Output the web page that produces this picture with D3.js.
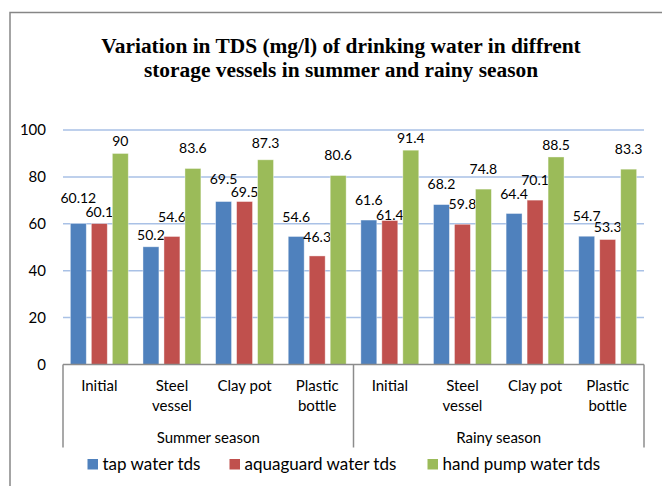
<!DOCTYPE html>
<meta charset="utf-8">
<style>
body { margin: 0; background: #fff; }
svg text { font-family: Lato, "Open Sans", sans-serif; fill: #000; }
.title { font-family: "Liberation Serif", "Times New Roman", serif !important; font-weight: bold; font-size: 21.4px; }
.grid line { stroke: #a9c1e6; stroke-width: 1.5; }
.cataxis line { stroke: #8c8c8c; stroke-width: 1.5; }
</style>
<svg width="662" height="486"></svg>
<script src="https://d3js.org/d3.v7.min.js"></script>
<script>
// data
var seasons = ["Summer season", "Rainy season"];
var vessels = [["Initial"], ["Steel", "vessel"], ["Clay pot"], ["Plastic", "bottle"]];
var seriesNames = ["tap water tds", "aquaguard water tds", "hand pump water tds"];
var tapTds = [60.12, 50.2, 69.5, 54.6, 61.6, 68.2, 64.4, 54.7];
var aquaguardTds = [60.1, 54.6, 69.5, 46.3, 61.4, 59.8, 70.1, 53.3];
var handPumpTds = [90, 83.6, 87.3, 80.6, 91.4, 74.8, 88.5, 83.3];
var yTicks = [0, 20, 40, 60, 80, 100];

var colors = ["#4f81bd", "#c0504d", "#9bbb59"];
// how far each value label sits above its bar (label centre), px
var labelGap = [
  [26, 12, 23, 20, 20, 21, 20, 20],
  [12, 20, 10, 19, 6, 20, 20, 13],
  [12, 20, 17, 21, 12, 20, 12, 20]
];

var seriesValues = [tapTds, aquaguardTds, handPumpTds];
var cats = [];
seasons.forEach(function(s, si) {
  vessels.forEach(function(v, vi) { cats.push({ season: si, lines: v, key: si + "-" + vi }); });
});

var svg = d3.select("svg");
var plotLeft = 63, plotRight = 644, plotTop = 130, plotBottom = 364.5;

// chart frame
svg.append("rect")
  .attr("x", 10).attr("y", 12.5).attr("width", 700).attr("height", 520)
  .attr("fill", "none").attr("stroke", "#868686").attr("stroke-width", 1.5);

svg.append("text").attr("class", "title")
  .attr("text-anchor", "middle")
  .selectAll("tspan")
  .data(["Variation in TDS (mg/l) of drinking water in diffrent",
         "storage vessels in summer and rainy season"])
  .enter().append("tspan")
  .attr("x", 341).attr("y", function(d, i) { return 52.5 + i * 24.5; })
  .text(function(d) { return d; });

var x = d3.scaleBand().domain(cats.map(function(d) { return d.key; })).range([plotLeft, plotRight]);
var xs = d3.scaleBand().domain(d3.range(3)).range([0, x.bandwidth()]).paddingInner(0.24).paddingOuter(0.35);
var y = d3.scaleLinear().domain([0, 100]).range([plotBottom, plotTop]);

// gridlines
svg.append("g").attr("class", "grid")
  .selectAll("line").data(yTicks.slice(1)).enter().append("line")
  .attr("x1", plotLeft).attr("x2", plotRight)
  .attr("y1", function(d) { return y(d); }).attr("y2", function(d) { return y(d); });

// y axis labels
var yAxis = svg.append("g")
  .attr("transform", "translate(" + (plotLeft - 10) + ",0)")
  .call(d3.axisLeft(y).tickValues(yTicks).tickSize(0).tickPadding(7));
yAxis.select(".domain").remove();
yAxis.selectAll("text").attr("font-size", "15px").attr("font-family", "Lato").attr("fill", "#000");

// bars
var series = svg.selectAll(".series")
  .data(seriesValues).enter().append("g")
  .attr("fill", function(d, i) { return colors[i]; });

series.selectAll("rect")
  .data(function(vals, si) { return vals.map(function(v, ci) { return { v: v, si: si, ci: ci }; }); })
  .enter().append("rect")
  .attr("x", function(d) { return x(cats[d.ci].key) + xs(d.si); })
  .attr("width", xs.bandwidth())
  .attr("y", function(d) { return y(d.v); })
  .attr("height", function(d) { return y(0) - y(d.v); })
  .attr("stroke", "#fff").attr("stroke-opacity", 0.5).attr("stroke-width", 0.8);

series.selectAll("text.val")
  .data(function(vals, si) { return vals.map(function(v, ci) { return { v: v, si: si, ci: ci }; }); })
  .enter().append("text").attr("class", "val")
  .attr("text-anchor", "middle")
  .attr("font-size", "14px")
  .attr("x", function(d) { return x(cats[d.ci].key) + xs(d.si) + xs.bandwidth() / 2; })
  .attr("y", function(d) { return y(d.v) - labelGap[d.si][d.ci]; })
  .attr("dy", "0.36em")
  .text(function(d) { return String(d.v); });

// category axis (two levels)
var cax = svg.append("g").attr("class", "cataxis");
cax.append("line").attr("x1", plotLeft).attr("x2", plotRight).attr("y1", plotBottom).attr("y2", plotBottom);
var mid = x(cats[4].key);
[plotLeft, mid, plotRight].forEach(function(px) {
  cax.append("line").attr("x1", px).attr("x2", px).attr("y1", plotBottom).attr("y2", 447.5);
});

var catLabels = svg.append("g").selectAll("text")
  .data(cats).enter().append("text")
  .attr("text-anchor", "middle")
  .attr("font-size", "15px");
catLabels.selectAll("tspan")
  .data(function(d) { return d.lines.map(function(l) { return { l: l, key: d.key }; }); })
  .enter().append("tspan")
  .attr("x", function(d) { return x(d.key) + x.bandwidth() / 2; })
  .attr("y", function(d, i) { return 386 + i * 19.5; })
  .attr("dy", "0.36em")
  .text(function(d) { return d.l; });

svg.append("g").selectAll("text")
  .data(seasons).enter().append("text")
  .attr("text-anchor", "middle")
  .attr("font-size", "15px")
  .attr("x", function(d, i) { return i === 0 ? (plotLeft + mid) / 2 : (mid + plotRight) / 2; })
  .attr("y", 437.5).attr("dy", "0.36em")
  .text(function(d) { return d; });

// legend
var legendX = [87.5, 229.5, 427.5];
var lg = svg.append("g").selectAll("g")
  .data(seriesNames).enter().append("g")
  .attr("transform", function(d, i) { return "translate(" + legendX[i] + ",459)"; });
lg.append("rect").attr("width", 10.5).attr("height", 10.5)
  .attr("fill", function(d, i) { return colors[i]; });
lg.append("text").attr("x", 15).attr("y", 5.3).attr("dy", "0.36em")
  .attr("font-size", "17px")
  .text(function(d) { return d; });
</script>
